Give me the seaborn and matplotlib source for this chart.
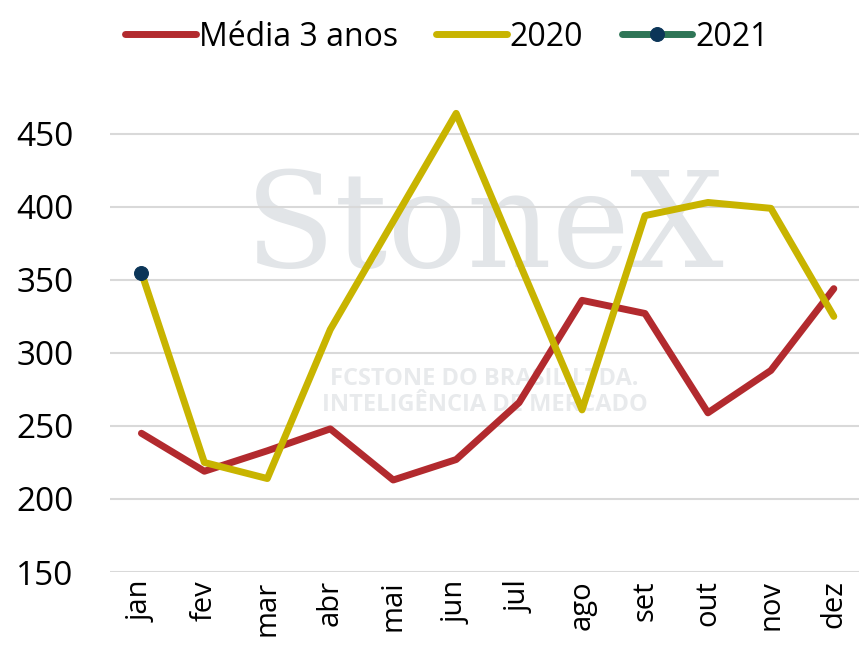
import numpy as np
import pandas as pd
import seaborn as sns
import matplotlib
matplotlib.use("Agg")
import matplotlib.pyplot as plt

meses = ["jan", "fev", "mar", "abr", "mai", "jun", "jul", "ago", "set", "out", "nov", "dez"]
media_3_anos = [245, 219, 233, 248, 213, 227, 266, 336, 327, 259, 288, 344]
ano_2020 = [355, 225, 214, 316, 390, 464, 362, 261, 394, 403, 399, 325]
ano_2021 = [355]

sns.set_style("white")
plt.rcParams["font.family"] = ["Open Sans", "DejaVu Sans"]
plt.rcParams["text.color"] = "black"

fig = plt.figure(figsize=(8.59, 6.53), dpi=100)
ax = fig.add_axes([0.128, 0.124, 0.872, 0.727])

x = np.arange(len(meses))
sns.lineplot(x=x, y=media_3_anos, ax=ax, color="#B22A2E", linewidth=5,
             label="Média 3 anos", solid_capstyle="round")
sns.lineplot(x=x, y=ano_2020, ax=ax, color="#C8B400", linewidth=5,
             label="2020", solid_capstyle="round")
sns.lineplot(x=x[:len(ano_2021)], y=ano_2021, ax=ax, color="#2E7556", linewidth=5,
             marker="o", markersize=10, markerfacecolor="#0B3558",
             markeredgecolor="#0B3558", label="2021")

# marca d'agua
ax.text(0.5, 0.72, "StoneX", transform=ax.transAxes, ha="center", va="center",
        fontsize=95, color="#E2E5E8", family="DejaVu Serif", zorder=0)
ax.text(0.5, 0.38, "FCSTONE DO BRASIL LTDA.\nINTELIGÊNCIA DE MERCADO",
        transform=ax.transAxes, ha="center", va="center", fontsize=17,
        color="#E8EAEC", fontweight="bold", zorder=0, linespacing=1.1)

ax.set_xlim(-0.5, 11.4)
ax.set_ylim(150, 475)
ax.set_yticks([150, 200, 250, 300, 350, 400, 450])
ax.set_xticks(x)
ax.set_xticklabels(meses, rotation=90, fontsize=21)
ax.tick_params(axis="y", labelsize=24, length=0, pad=26, labelcolor="black")
ax.tick_params(axis="x", length=0, pad=6, labelcolor="black")
ax.yaxis.grid(True, color="#D9D9D9", linewidth=1.5)
ax.set_axisbelow(True)
sns.despine(ax=ax, left=True, bottom=True)

leg = ax.legend(loc="center", bbox_to_anchor=(0.45, 1.127), ncol=3,
                frameon=False, fontsize=23, handlelength=2.2,
                handletextpad=0.1, columnspacing=1.2, labelcolor="black")

fig.savefig("out.png", dpi=100)
